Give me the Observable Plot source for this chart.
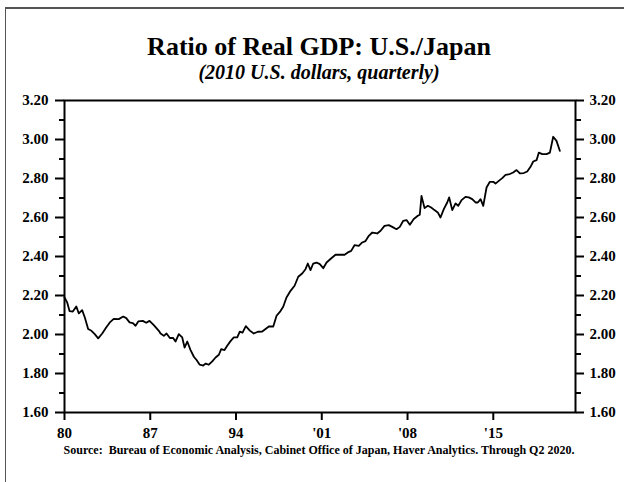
<!DOCTYPE html>
<html><head><meta charset="utf-8">
<script src="https://cdn.jsdelivr.net/npm/d3@7"></script>
<script src="https://cdn.jsdelivr.net/npm/@observablehq/plot@0.6"></script>
<style>
body{margin:0;background:#fff;}
#wrap{position:relative;width:624px;height:482px;overflow:hidden;font-family:"Liberation Serif","Times New Roman",serif;color:#000;}
#border{position:absolute;left:5px;top:7px;width:700px;height:600px;border-left:1.5px solid #555;border-top:2px solid #555;}
.t{position:absolute;left:14px;width:610px;text-align:center;font-weight:bold;white-space:nowrap;}
#title{top:32px;font-size:26px;line-height:30px;}
#sub{top:61px;font-size:20px;line-height:22px;font-style:italic;}
#src{top:443px;font-size:12px;line-height:14px;}
#chart{position:absolute;left:0;top:0;}
</style></head>
<body>
<div id="wrap">
  <div id="border"></div>
  <div id="chart"></div>
  <div class="t" id="title">Ratio of Real GDP: U.S./Japan</div>
  <div class="t" id="sub">(2010 U.S. dollars, quarterly)</div>
  <div class="t" id="src">Source:&nbsp; Bureau of Economic Analysis, Cabinet Office of Japan, Haver Analytics. Through Q2 2020.</div>
</div>
<script>
const years = [1980.00,1980.22,1980.41,1980.68,1980.96,1981.17,1981.44,1981.66,1981.93,1982.20,1982.47,1982.75,
1983.08,1983.40,1983.70,1984.02,1984.43,1984.79,1985.04,1985.31,1985.58,1985.80,1986.02,1986.39,1986.67,1986.94,
1987.29,1987.70,1987.84,1988.11,1988.33,1988.60,1988.87,1989.06,1989.33,1989.61,1989.80,1990.02,1990.29,1990.56,
1990.78,1991.04,1991.32,1991.53,1991.78,1992.06,1992.33,1992.60,1992.79,1993.06,1993.28,1993.55,1993.82,1994.10,
1994.31,1994.53,1994.80,1995.13,1995.45,1995.78,1996.14,1996.41,1996.68,1997.04,1997.31,1997.63,1997.85,1998.12,
1998.45,1998.78,1999.08,1999.40,1999.67,1999.86,2000.08,2000.30,2000.57,2000.84,2001.12,2001.39,2001.71,2002.12,
2002.53,2002.86,2003.13,2003.40,2003.67,2004.02,2004.30,2004.57,2004.84,2005.12,2005.53,2005.80,2006.12,2006.47,
2006.75,2007.10,2007.37,2007.65,2007.92,2008.19,2008.51,2008.84,2009.00,2009.14,2009.39,2009.66,2009.93,2010.20,
2010.47,2010.69,2010.96,2011.24,2011.40,2011.65,2011.92,2012.14,2012.41,2012.73,2013.00,2013.28,2013.55,2013.74,
2013.96,2014.18,2014.45,2014.72,2015.00,2015.18,2015.45,2015.73,2016.00,2016.35,2016.62,2016.90,2017.17,2017.49,
2017.77,2018.04,2018.26,2018.53,2018.72,2019.00,2019.35,2019.62,2019.89,2020.16,2020.43];
const ratio = [2.19,2.164,2.12,2.118,2.144,2.108,2.125,2.087,2.028,2.019,2.002,1.98,
2.005,2.036,2.062,2.08,2.079,2.092,2.084,2.062,2.058,2.045,2.067,2.07,2.06,2.07,
2.048,2.019,2.005,1.993,2.005,1.982,1.982,1.964,2.002,1.985,1.933,1.964,1.92,1.886,
1.869,1.845,1.841,1.851,1.845,1.862,1.882,1.896,1.925,1.92,1.942,1.966,1.985,1.985,
2.015,2.01,2.043,2.02,2.005,2.014,2.015,2.028,2.041,2.041,2.096,2.12,2.142,2.19,
2.224,2.25,2.296,2.313,2.335,2.364,2.33,2.364,2.369,2.361,2.34,2.369,2.387,2.409,
2.409,2.409,2.421,2.429,2.458,2.455,2.472,2.479,2.506,2.523,2.518,2.532,2.557,2.561,
2.552,2.54,2.552,2.583,2.587,2.563,2.592,2.609,2.614,2.711,2.648,2.66,2.651,2.638,
2.626,2.6,2.643,2.677,2.703,2.638,2.672,2.66,2.689,2.706,2.703,2.694,2.677,2.677,
2.694,2.66,2.754,2.783,2.783,2.774,2.788,2.802,2.819,2.823,2.831,2.843,2.826,2.828,
2.836,2.86,2.887,2.894,2.933,2.925,2.925,2.933,3.014,2.993,2.942];
const yTicks = [1.6,1.8,2.0,2.2,2.4,2.6,2.8,3.0,3.2];
const yMinor = [1.7,1.9,2.1,2.3,2.5,2.7,2.9,3.1];
const xTicks = [1980,1987,1994,2001,2008,2015];
const xLabels = ["80","87","94","'01","'08","'15"];

const data = years.map((y,i)=>({year:y, ratio:ratio[i]}));
const lbl = new Map(xTicks.map((t,i)=>[t,xLabels[i]]));
const fmt = d => d.toFixed(2);

const chart = Plot.plot({
  width: 624, height: 482,
  marginTop: 100, marginBottom: 70, marginLeft: 64, marginRight: 49,
  x: {domain: [1980, 2021.71]},
  y: {domain: [1.6, 3.2]},
  style: {fontFamily: "'Liberation Serif', 'Times New Roman', serif", fontSize: "15px", fontWeight: "bold", background: "transparent", color: "#000", overflow: "visible"},
  marks: [
    Plot.axisY({anchor: "left", ticks: yTicks, tickSize: 9, tickPadding: 7, strokeWidth: 2, tickFormat: fmt, label: null}),
    Plot.axisY({anchor: "left", ticks: yMinor, tickSize: 5, strokeWidth: 2, text: null, label: null}),
    Plot.axisY({anchor: "right", ticks: yTicks, tickSize: 8, tickPadding: 6, strokeWidth: 2, tickFormat: fmt, label: null}),
    Plot.axisY({anchor: "right", ticks: yMinor, tickSize: 5, strokeWidth: 2, text: null, label: null}),
    Plot.axisX({ticks: xTicks, tickSize: 8, tickPadding: 7, strokeWidth: 2, tickFormat: d => lbl.get(d), label: null}),
    Plot.frame({stroke: "#000", strokeWidth: 2}),
    Plot.line(data, {x: "year", y: "ratio", stroke: "#000", strokeWidth: 1.8})
  ]
});
document.getElementById("chart").appendChild(chart);
</script>
</body></html>
